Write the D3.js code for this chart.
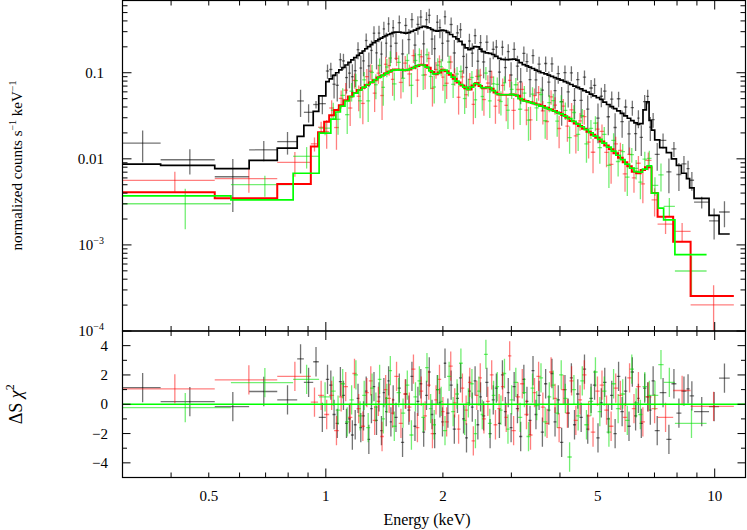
<!DOCTYPE html>
<html>
<head>
<meta charset="utf-8">
<script src="https://cdn.jsdelivr.net/npm/d3@7"></script>
<style>
  html, body { margin: 0; padding: 0; background: #fff; }
  svg { display: block; font-family: "Liberation Serif", "Times New Roman", serif; }
</style>
</head>
<body>
<svg id="chart" width="747" height="530"></svg>
<script>
// Axis ranges and tick labels
const energyRange = [0.3, 12];
const countRange = [1e-4, 0.7];
const residRange = [-5, 5];
const energyTickValues = [0.5, 1, 2, 5, 10];
const energyTickLabels = ['0.5', '1', '2', '5', '10'];
const countTickValues = [0.1, 0.01, 1e-3, 1e-4];
const countTickLabels = ['0.1', '0.01', '10^\u22123', '10^\u22124'];
const residTickValues = [4, 2, 0, -2, -4];
const residTickLabels = ['4', '2', '0', '\u22122', '\u22124'];

// Black spectrum: bin edges (keV), folded model, signed delta chi^2, relative error
const blackEdges = [0.3, 0.376, 0.518, 0.635, 0.75, 0.844, 0.878, 0.928, 0.959, 1.0,
  1.02, 1.04, 1.06, 1.08, 1.10, 1.12, 1.14, 1.16, 1.18, 1.20, 1.22, 1.24, 1.26, 1.28, 1.30,
  1.32, 1.34, 1.36, 1.38, 1.40, 1.42, 1.44, 1.46, 1.48, 1.50,
  1.53, 1.56, 1.59, 1.62, 1.65, 1.68, 1.71, 1.74, 1.77, 1.80, 1.83, 1.86, 1.89, 1.92, 1.95, 1.98, 2.01,
  2.04, 2.08, 2.12, 2.16, 2.20, 2.24, 2.28, 2.32, 2.36, 2.40, 2.44, 2.48, 2.52,
  2.57, 2.62, 2.67, 2.72, 2.77, 2.82, 2.87, 2.92, 2.97, 3.02,
  3.08, 3.14, 3.20, 3.26, 3.32, 3.38, 3.44, 3.50,
  3.57, 3.64, 3.71, 3.78, 3.85, 3.92, 4.00,
  4.08, 4.16, 4.24, 4.32, 4.40,
  4.49, 4.58, 4.67, 4.76, 4.86, 4.96, 5.06, 5.16,
  5.27, 5.38, 5.49, 5.60, 5.72, 5.84, 5.96, 6.08, 6.20, 6.32,
  6.41, 6.54, 6.67, 6.78, 6.88, 7.01, 7.22, 7.51, 7.74, 7.97, 8.21, 8.46, 8.62, 8.85, 9.67, 10.26, 10.93];
const blackModel = [0.0087, 0.0084, 0.0077, 0.0096, 0.0133, 0.0182, 0.0245, 0.0355, 0.054,
  0.079, 0.085, 0.093, 0.100, 0.108, 0.115, 0.123, 0.132, 0.141, 0.150, 0.159, 0.169, 0.179,
  0.190, 0.201, 0.212, 0.224, 0.234, 0.244, 0.253, 0.262, 0.270, 0.278, 0.285, 0.292,
  0.296, 0.297, 0.293, 0.289, 0.293, 0.302, 0.313, 0.325, 0.336, 0.345, 0.342, 0.332, 0.318, 0.308, 0.304, 0.308, 0.312,
  0.308, 0.295, 0.278, 0.262, 0.248, 0.232, 0.212, 0.195, 0.186, 0.192, 0.201, 0.200, 0.188,
  0.176, 0.170, 0.168, 0.163, 0.155, 0.147, 0.143, 0.142, 0.142, 0.143,
  0.144, 0.140, 0.131, 0.124, 0.120, 0.116, 0.112, 0.107,
  0.104, 0.100, 0.097, 0.094, 0.091, 0.088, 0.085,
  0.082, 0.079, 0.076, 0.073, 0.070,
  0.0675, 0.065, 0.062, 0.0595, 0.0565, 0.054, 0.0515, 0.049,
  0.0455, 0.0428, 0.0405, 0.0383, 0.036, 0.0337, 0.0316, 0.0296, 0.0278, 0.0262,
  0.0252, 0.0256, 0.037, 0.046, 0.028, 0.0215, 0.0166, 0.0135, 0.0118, 0.0100, 0.0084, 0.0068, 0.0059, 0.0046, 0.00348, 0.0022, 0.00134];
const blackResid = [1.14, 0.18, -0.16, 0.87, 0.3, 3.1, 1.5, 2.9, -0.9,
  1.7, 1.3, -0.7, -1.3, 1.55, 0.6, -1.3, -1.0, -2.1, -1.4, 0.4, -1.6, -0.8, 0.9, -2.4,
  -0.3, 1.2, -1.1, 0.5, -1.8, 0.8, -0.5, 1.6, -1.2, 0.3,
  -0.9, 1.1, -2.6, 0.7, -0.4, 1.9, -1.5, 0.2, 1.4, -1.9, 0.6, 2.2, -0.7, -2.0, 1.0, 0.1, -1.2,
  2.8, -0.6, 1.3, -1.7, 0.4, 1.8, -1.0, -2.3, 0.9, -0.2, 1.6, -1.4, 0.5,
  -0.8, 1.5, -2.0, 0.3, 1.1, -1.3, 2.0, -0.5, 0.8, -1.6,
  1.2, -0.3, -2.2, 1.7, 0.2, -1.1, 2.3, -0.7,
  0.6, -1.9, 1.4, -0.4, 2.1, -1.2, 0.3,
  -2.6, 1.0, -0.6, 1.8, -1.4,
  0.7, -0.9, 2.4, -1.7, 0.4, 1.3, -2.3, 0.1,
  1.5, -1.0, 0.6, -2.0, 1.9, -0.5, 0.9, -1.5, 2.2, -0.8,
  0.4, -1.3, 1.1, 0.5, -0.4, 1.6, -1.8, 0.8, -2.4, 1.4, -0.6, 0.9, 1.05, 0.57, -0.5, -0.16, 1.78];
const blackErr = [0.7, 0.38, 0.49, 0.35, 0.35, 0.9, 0.34, 0.12, 0.2,
  0.25, 0.25, 0.25, 0.25, 0.25, 0.25, 0.25, 0.25, 0.25, 0.25, 0.26, 0.26, 0.26, 0.26, 0.26,
  0.26, 0.26, 0.26, 0.26, 0.26, 0.26, 0.26, 0.26, 0.26, 0.26,
  0.27, 0.27, 0.27, 0.27, 0.27, 0.27, 0.27, 0.27, 0.27, 0.27, 0.27, 0.27, 0.27, 0.27, 0.27, 0.27, 0.27,
  0.27, 0.27, 0.27, 0.27, 0.27, 0.27, 0.27, 0.27, 0.27, 0.27, 0.27, 0.27, 0.27,
  0.27, 0.27, 0.27, 0.27, 0.27, 0.27, 0.27, 0.27, 0.27, 0.27,
  0.27, 0.27, 0.27, 0.27, 0.27, 0.27, 0.27, 0.27,
  0.27, 0.27, 0.27, 0.27, 0.27, 0.27, 0.27,
  0.27, 0.27, 0.27, 0.27, 0.27,
  0.28, 0.28, 0.28, 0.28, 0.28, 0.28, 0.28, 0.28,
  0.28, 0.28, 0.28, 0.28, 0.28, 0.28, 0.28, 0.28, 0.28, 0.28,
  0.28, 0.27, 0.24, 0.22, 0.26, 0.26, 0.24, 0.24, 0.26, 0.26, 0.28, 0.3, 0.3, 0.3, 0.14, 0.34, 0.6];

// Red spectrum
const redEdges = [0.3, 0.518, 0.75, 0.915, 0.955, 0.99,
  1.02, 1.05, 1.08, 1.11, 1.14, 1.17, 1.20, 1.23, 1.26, 1.29, 1.32, 1.35, 1.38, 1.41, 1.44, 1.47, 1.50,
  1.54, 1.58, 1.62, 1.66, 1.70, 1.74, 1.78, 1.82, 1.86, 1.90, 1.94, 1.98, 2.02,
  2.07, 2.12, 2.17, 2.22, 2.27, 2.32, 2.37, 2.42, 2.47, 2.52,
  2.58, 2.64, 2.70, 2.76, 2.82, 2.88, 2.94, 3.00,
  3.08, 3.16, 3.24, 3.32, 3.40, 3.48,
  3.57, 3.66, 3.75, 3.84, 3.93,
  4.03, 4.13, 4.23, 4.34, 4.45, 4.56, 4.68, 4.80, 4.93, 5.06, 5.20, 5.34, 5.49, 5.64,
  5.80, 5.96, 6.12, 6.28, 6.45, 6.62, 6.88, 7.13, 7.82, 8.67, 11.2];
const redModel = [0.0041, 0.00349, 0.0051, 0.0139, 0.0204,
  0.027, 0.032, 0.037, 0.042, 0.048, 0.053, 0.058, 0.063, 0.067, 0.072, 0.077, 0.082, 0.088, 0.093, 0.098, 0.103, 0.107,
  0.109, 0.108, 0.107, 0.109, 0.114, 0.120, 0.124, 0.122, 0.114, 0.102, 0.096, 0.101, 0.108,
  0.104, 0.095, 0.085, 0.077, 0.071, 0.066, 0.064, 0.071, 0.076, 0.070,
  0.066, 0.068, 0.065, 0.059, 0.056, 0.0555, 0.0555, 0.0555,
  0.056, 0.054, 0.049, 0.047, 0.0455, 0.044,
  0.0428, 0.041, 0.0392, 0.0375, 0.036,
  0.0342, 0.0322, 0.0303, 0.0276, 0.0258, 0.0241, 0.0224, 0.0206, 0.019, 0.0176, 0.0159, 0.0143, 0.0129, 0.0116,
  0.0103, 0.0091, 0.0082, 0.0071, 0.0068, 0.0074, 0.0080, 0.0040, 0.00213, 0.00109, 0.000255];
const redResid = [1.05, 1.67, 1.9, 0.14, 0.6,
  -0.7, 0.6, -1.8, 0.5, 1.2, -0.9, 2.1, -0.3, -1.5, 0.8,
  1.6, -1.1, 0.2, -2.2, 1.0, 0.4, -0.6, 1.9, -1.3, 0.7,
  -0.2, 2.4, -1.6, 0.9, -0.8, 1.3, -2.0, 0.3, 1.7, -0.5,
  -1.2, 2.6, 0.1, -1.7, 1.1, -0.4, 1.5, -2.5, 0.6, 1.8,
  -1.0, 0.2, 2.0, -1.4, -0.3, 1.2, -0.9, 3.3, -1.8, 0.5,
  1.4, -0.7, -2.1, 0.8, 1.9, -0.2, -1.3, 2.2, 0.4, -1.6,
  1.0, -0.6, 1.6, -1.1, 0.3, 2.0, -0.8, -1.9, 0.9, 1.3,
  -0.4, -1.5, 1.1, 0.6, -0.9, 1.8, -0.3, 1.2, -1.2, 0.5,
  -0.3, -0.9, 0.94, -0.15];
const redErr = [0.36, 0.53, 0.57, 0.2, 0.18,
  0.28, 0.28, 0.28, 0.28, 0.28, 0.28, 0.28, 0.28, 0.28, 0.28, 0.28, 0.28, 0.28, 0.28, 0.28, 0.28, 0.28,
  0.25, 0.25, 0.25, 0.25, 0.25, 0.25, 0.25, 0.25, 0.25, 0.25, 0.25, 0.25, 0.25,
  0.25, 0.25, 0.25, 0.25, 0.25, 0.25, 0.25, 0.25, 0.25, 0.25,
  0.26, 0.26, 0.26, 0.26, 0.26, 0.26, 0.26, 0.26,
  0.26, 0.26, 0.26, 0.26, 0.26, 0.26,
  0.27, 0.27, 0.27, 0.27, 0.27,
  0.27, 0.27, 0.27, 0.27, 0.27, 0.27, 0.27, 0.27, 0.27, 0.27, 0.27, 0.27, 0.27, 0.27,
  0.28, 0.28, 0.28, 0.28, 0.28, 0.28, 0.28,
  0.3, 0.19, 0.33, 0.55];

// Green spectrum
const greenEdges = [0.3, 0.57, 0.824, 0.961,
  1.03, 1.06, 1.09, 1.12, 1.15, 1.18, 1.21, 1.24, 1.27, 1.30, 1.33, 1.36, 1.39, 1.42, 1.45, 1.48,
  1.52, 1.56, 1.60, 1.64, 1.68, 1.72, 1.76, 1.80, 1.84, 1.88, 1.92, 1.96, 2.00,
  2.05, 2.10, 2.15, 2.20, 2.25, 2.30, 2.35, 2.40, 2.45, 2.50, 2.55,
  2.61, 2.67, 2.73, 2.79, 2.85, 2.91, 2.97,
  3.04, 3.12, 3.20, 3.28, 3.36, 3.44,
  3.53, 3.62, 3.71, 3.80, 3.89, 3.98,
  4.08, 4.18, 4.29, 4.40, 4.51, 4.62, 4.74, 4.87, 5.00, 5.13, 5.27, 5.42, 5.57, 5.72, 5.88,
  6.04, 6.20, 6.36, 6.52, 6.70, 6.88, 7.16, 7.39, 7.90, 9.53];
const greenModel = [0.00372, 0.00334, 0.0068, 0.0199,
  0.029, 0.035, 0.041, 0.047, 0.053, 0.058, 0.063, 0.068, 0.073, 0.078, 0.083, 0.089, 0.094, 0.099, 0.104,
  0.107, 0.108, 0.107, 0.108, 0.112, 0.118, 0.123, 0.123, 0.116, 0.105, 0.097, 0.098, 0.106,
  0.107, 0.099, 0.089, 0.080, 0.073, 0.068, 0.064, 0.068, 0.075, 0.073, 0.067,
  0.067, 0.067, 0.062, 0.057, 0.0555, 0.0555, 0.0555,
  0.056, 0.055, 0.050, 0.047, 0.0458, 0.0443,
  0.0428, 0.041, 0.0393, 0.0377, 0.0362, 0.0347,
  0.0332, 0.0313, 0.0293, 0.0272, 0.0253, 0.0236, 0.0219, 0.0201, 0.0184, 0.0168, 0.0152, 0.0137, 0.0123, 0.0110, 0.0098,
  0.0087, 0.0078, 0.0071, 0.0070, 0.0076, 0.0083, 0.0040, 0.00268, 0.00195, 0.00077];
const greenResid = [-0.23, 1.48, 1.7, 0.5,
  0.9, -0.4, 1.4, -1.2, 0.3, 2.0, -0.8, 0.6, -1.6, 1.1,
  -0.2, 1.7, -1.0, 0.4, 2.3, -1.5, 0.8, -0.6, 1.3, -2.1,
  0.5, 1.6, -0.9, 2.5, -0.3, -1.4, 1.0, 0.2, -1.8, 1.9,
  -0.5, 0.7, 2.8, -1.1, 0.1, 1.4, -2.0, 0.9, -0.7, 3.4,
  -1.3, 0.6, 1.2, -0.4, 2.1, -1.7, 0.3, 1.5, -0.9, 0.8,
  -2.2, 1.1, -0.1, 1.8, -1.2, 0.5, 1.3, -0.6, 2.0, 0.4,
  -3.6, 1.0, -0.8, 1.6, -1.4, 0.2, 2.2, -0.5, 0.9, -1.9,
  1.4, -0.3, 0.7, -1.1, 2.4, 0.1, -0.7, 1.2, 0.6,
  0.6, 2.7, 1.5, -1.3];
const greenErr = [0.4, 0.41, 0.44, 0.2,
  0.28, 0.28, 0.28, 0.28, 0.28, 0.28, 0.28, 0.28, 0.28, 0.28, 0.28, 0.28, 0.28, 0.28, 0.28,
  0.25, 0.25, 0.25, 0.25, 0.25, 0.25, 0.25, 0.25, 0.25, 0.25, 0.25, 0.25, 0.25,
  0.25, 0.25, 0.25, 0.25, 0.25, 0.25, 0.25, 0.25, 0.25, 0.25, 0.25,
  0.26, 0.26, 0.26, 0.26, 0.26, 0.26, 0.26,
  0.26, 0.26, 0.26, 0.26, 0.26, 0.26,
  0.27, 0.27, 0.27, 0.27, 0.27, 0.27,
  0.27, 0.27, 0.21, 0.27, 0.27, 0.27, 0.27, 0.28, 0.28, 0.28, 0.28, 0.28, 0.28, 0.28, 0.28,
  0.28, 0.28, 0.28, 0.28, 0.28, 0.28,
  0.3, 0.87, 0.36, 0.31];

// Layout of the two stacked panels
const L = 122.5, R = 745.5, TOP = 0.5, MID = 331, BOT = 477.5;

const svg = d3.select('#chart');

const x = d3.scaleLog().domain(energyRange).range([L, R]);
const y = d3.scaleLog().domain(countRange).range([MID, 0]);
const yr = d3.scaleLinear().domain(residRange).range([BOT, MID]);

// Clip regions for each panel
const defs = svg.append('defs');
defs.append('clipPath').attr('id', 'clipUp').append('rect')
    .attr('x', L).attr('y', 0).attr('width', R - L).attr('height', MID);
defs.append('clipPath').attr('id', 'clipLo').append('rect')
    .attr('x', L).attr('y', MID).attr('width', R - L).attr('height', BOT - MID);

const upper = svg.append('g').attr('clip-path', 'url(#clipUp)');
const lower = svg.append('g').attr('clip-path', 'url(#clipLo)');

// Bins: the plotted residual is sign * delta chi^2, so the data sits sqrt(|c|) sigma off the model
function makeBins(edges, model, resid, err) {
    const n = Math.min(edges.length - 1, model.length, resid.length, err.length);
    return d3.range(n).map(i => {
        const lo = edges[i], hi = edges[i + 1];
        const s = model[i] * err[i];
        const k = Math.sign(resid[i]) * Math.sqrt(Math.abs(resid[i]));
        return { lo, hi, mid: (lo + hi) / 2, m: model[i], r: resid[i], s, d: model[i] + k * s };
    });
}

const sets = [
    { bins: makeBins(blackEdges, blackModel, blackResid, blackErr), color: '#000000', dataColor: '#000000', dataOpacity: 0.55, modelWidth: 1.7 },
    { bins: makeBins(redEdges, redModel, redResid, redErr), color: '#ff0000', dataColor: '#ff0000', dataOpacity: 0.5, modelWidth: 2 },
    { bins: makeBins(greenEdges, greenModel, greenResid, greenErr), color: '#00ff00', dataColor: '#00e000', dataOpacity: 0.55, modelWidth: 1.7 }
];

// Data crosses (upper panel) and residual crosses (lower panel)
sets.forEach(set => {
    const gU = upper.append('g').attr('stroke', set.dataColor).attr('stroke-opacity', set.dataOpacity).attr('stroke-width', 1.3);
    gU.selectAll('.h').data(set.bins).enter().append('line').attr('class', 'h')
        .attr('x1', d => x(d.lo)).attr('x2', d => x(d.hi))
        .attr('y1', d => y(d.d)).attr('y2', d => y(d.d));
    gU.selectAll('.v').data(set.bins).enter().append('line').attr('class', 'v')
        .attr('x1', d => x(d.mid)).attr('x2', d => x(d.mid))
        .attr('y1', d => y(Math.max(d.d - d.s, 1e-5))).attr('y2', d => y(d.d + d.s));

    const gL = lower.append('g').attr('stroke', set.dataColor).attr('stroke-opacity', set.dataOpacity).attr('stroke-width', 1.3);
    gL.selectAll('.h').data(set.bins).enter().append('line').attr('class', 'h')
        .attr('x1', d => x(d.lo)).attr('x2', d => x(d.hi))
        .attr('y1', d => yr(d.r)).attr('y2', d => yr(d.r));
    gL.selectAll('.v').data(set.bins).enter().append('line').attr('class', 'v')
        .attr('x1', d => x(d.mid)).attr('x2', d => x(d.mid))
        .attr('y1', d => yr(d.r - 1)).attr('y2', d => yr(d.r + 1));
});

// Model step lines
const stepLine = d3.line().x(p => x(p[0])).y(p => y(p[1])).curve(d3.curveStepAfter);
sets.forEach(set => {
    const pts = set.bins.map(b => [b.lo, b.m]);
    const last = set.bins[set.bins.length - 1];
    pts.push([last.hi, last.m]);
    upper.append('path').datum(pts)
        .attr('d', stepLine)
        .attr('fill', 'none')
        .attr('stroke', set.color)
        .attr('stroke-width', set.modelWidth);
});

// Zero line in the residual panel
lower.append('line')
    .attr('x1', L).attr('x2', R).attr('y1', yr(0)).attr('y2', yr(0))
    .attr('stroke', '#00ff00').attr('stroke-width', 1.5);

// Frames
const frame = svg.append('g').attr('fill', 'none').attr('stroke', '#000').attr('stroke-width', 1.2);
frame.append('rect').attr('x', L).attr('y', TOP).attr('width', R - L).attr('height', MID - TOP);
frame.append('rect').attr('x', L).attr('y', MID).attr('width', R - L).attr('height', BOT - MID);

// Tick marks, all pointing into the panels
const ticks = svg.append('g').attr('stroke', '#000').attr('stroke-width', 1);
function tick(x1, y1, x2, y2) {
    ticks.append('line').attr('x1', x1).attr('y1', y1).attr('x2', x2).attr('y2', y2);
}
const isDecade = v => Math.abs(Math.log10(v) - Math.round(Math.log10(v))) < 1e-6;

x.ticks().filter(v => v > energyRange[0] * 1.01).forEach(v => {
    const len = isDecade(v) ? 9 : 5;
    const px = x(v);
    tick(px, TOP, px, TOP + len);
    tick(px, MID, px, MID - len);
    tick(px, MID, px, MID + len);
    tick(px, BOT, px, BOT - len);
});

y.ticks().forEach(v => {
    const len = isDecade(v) ? 9 : 5;
    const py = y(v);
    tick(L, py, L + len, py);
    tick(R, py, R - len, py);
});

d3.range(-4, 5).forEach(v => {
    const len = v % 2 === 0 ? 8 : 4.5;
    const py = yr(v);
    tick(L, py, L + len, py);
    tick(R, py, R - len, py);
});

// Tick labels
const labels = svg.append('g').attr('font-size', 15).attr('fill', '#000');

energyTickValues.forEach((v, i) => {
    labels.append('text')
        .attr('x', x(v)).attr('y', 501)
        .attr('text-anchor', 'middle')
        .text(energyTickLabels[i]);
});

countTickValues.forEach((v, i) => {
    const parts = countTickLabels[i].split('^');
    const t = labels.append('text')
        .attr('x', 104).attr('y', y(v) + 5)
        .attr('text-anchor', 'end');
    t.append('tspan').text(parts[0]);
    if (parts[1]) {
        t.append('tspan').attr('font-size', 10).attr('dy', -6).text(parts[1]);
    }
});

residTickValues.forEach((v, i) => {
    labels.append('text')
        .attr('x', 108).attr('y', yr(v) + 5)
        .attr('text-anchor', 'end')
        .text(residTickLabels[i]);
});

// Axis titles
svg.append('text')
    .attr('x', 427).attr('y', 525)
    .attr('text-anchor', 'middle')
    .attr('font-size', 16)
    .text('Energy (keV)');

const yTitle = svg.append('text')
    .attr('transform', `translate(22,${MID / 2}) rotate(-90)`)
    .attr('text-anchor', 'middle')
    .attr('font-size', 15);
yTitle.append('tspan').text('normalized counts s');
yTitle.append('tspan').attr('font-size', 10).attr('dy', -6).text('\u22121');
yTitle.append('tspan').attr('dy', 6).text(' keV');
yTitle.append('tspan').attr('font-size', 10).attr('dy', -6).text('\u22121');

const rTitle = svg.append('text')
    .attr('transform', `translate(22,${yr(0)}) rotate(-90)`)
    .attr('text-anchor', 'middle')
    .attr('font-size', 18);
rTitle.append('tspan').text('\u0394S ');
rTitle.append('tspan').attr('font-style', 'italic').text('\u03c7');
rTitle.append('tspan').attr('font-size', 12).attr('dy', -8).text('2');
</script>
</body>
</html>
